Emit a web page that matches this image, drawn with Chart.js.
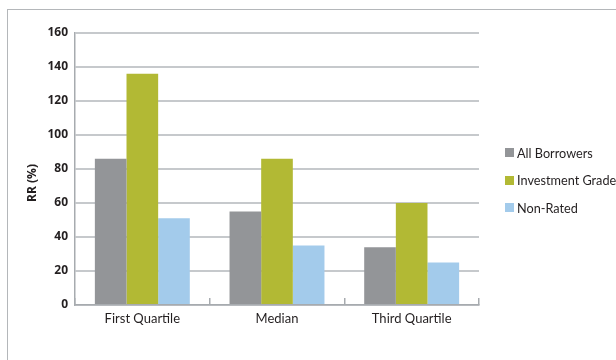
<!DOCTYPE html>
<html>
<head>
<meta charset="utf-8">
<script src="https://cdn.jsdelivr.net/npm/chart.js@4"></script>
<style>
  html, body { margin: 0; padding: 0; background: #fff; overflow: hidden; }
  #wrap { position: relative; width: 616px; height: 360px; overflow: hidden; }
  #frame { position: absolute; left: 7px; top: 9px; width: 640px; height: 400px;
           border-top: 1px solid #b4b7ba; border-left: 1px solid #b4b7ba; }
  canvas { position: absolute; left: 0; top: 0; }
  #legend { position: absolute; left: 505px; top: 139px; font-family: Lato, "Open Sans", sans-serif;
            font-size: 12.7px; color: #231f20; white-space: nowrap; }
  #legend div { height: 27.5px; display: flex; align-items: center; }
  #legend span.box { display: inline-block; width: 9px; height: 9px; margin-right: 3px; }
</style>
</head>
<body>
<div id="wrap">
  <div id="frame"></div>
  <canvas id="rrChart" width="616" height="360"></canvas>
  <div id="legend"></div>
</div>
<script>
  const categories = ['First Quartile', 'Median', 'Third Quartile'];
  const seriesNames = ['All Borrowers', 'Investment Grade', 'Non-Rated'];
  const allBorrowers = [86, 55, 34];
  const investmentGrade = [136, 86, 60];
  const nonRated = [51, 35, 25];
  const seriesColors = ['#939598', '#b2b934', '#a3cbeb'];
  const yTicks = [0, 20, 40, 60, 80, 100, 120, 140, 160];
  const yTitle = 'RR (%)';

  const seriesValues = [allBorrowers, investmentGrade, nonRated];

  // y title sits a bit lower than the plot middle in the original, so draw it by hand
  const yTitlePlugin = {
    id: 'yTitle',
    afterDraw(chart) {
      const c = chart.ctx;
      c.save();
      c.translate(33, 183);
      c.rotate(-Math.PI / 2);
      c.font = 'bold 12px "Open Sans"';
      c.fillStyle = '#231f20';
      c.textAlign = 'center';
      c.textBaseline = 'middle';
      c.fillText(yTitle, 0, 0);
      c.restore();
    }
  };

  const ctx = document.getElementById('rrChart').getContext('2d');
  const rrChart = new Chart(ctx, {
    type: 'bar',
    data: {
      labels: categories,
      datasets: seriesNames.map((name, i) => ({
        label: name,
        data: seriesValues[i],
        backgroundColor: seriesColors[i],
        borderWidth: 0,
        categoryPercentage: 0.705,
        barPercentage: 1.0
      }))
    },
    options: {
      responsive: false,
      animation: false,
      devicePixelRatio: 1,
      layout: { padding: { left: 20, right: 137, top: 33, bottom: 0 } },
      plugins: {
        legend: { display: false },
        tooltip: { enabled: false }
      },
      scales: {
        x: {
          grid: {
            display: true,
            offset: true,
            drawOnChartArea: false,
            drawTicks: true,
            tickLength: -7,
            tickColor: '#a7abaf',
            lineWidth: 1.5
          },
          border: { display: true, color: '#a7abaf', width: 1.5 },
          ticks: {
            color: '#231f20',
            font: { family: 'Lato', size: 13 },
            padding: 13
          },
          afterFit: (scale) => { scale.height = 55; }
        },
        y: {
          min: 0,
          max: 160,
          afterBuildTicks: (scale) => { scale.ticks = yTicks.map(v => ({ value: v })); },
          grid: {
            color: '#c6c9cc',
            lineWidth: 2,
            drawTicks: false
          },
          border: { display: true, color: '#a7abaf', width: 1.5 },
          ticks: {
            color: '#231f20',
            font: { family: 'Open Sans', size: 12, weight: 'bold' },
            padding: 7
          },
          afterFit: (scale) => { scale.width = 55; }
        }
      }
    },
    plugins: [yTitlePlugin]
  });

  // legend as html, built from the same arrays
  const legendEl = document.getElementById('legend');
  seriesNames.forEach((name, i) => {
    const row = document.createElement('div');
    row.innerHTML = `<span class="box" style="background:${seriesColors[i]}"></span>${name}`;
    legendEl.appendChild(row);
  });
</script>
</body>
</html>
